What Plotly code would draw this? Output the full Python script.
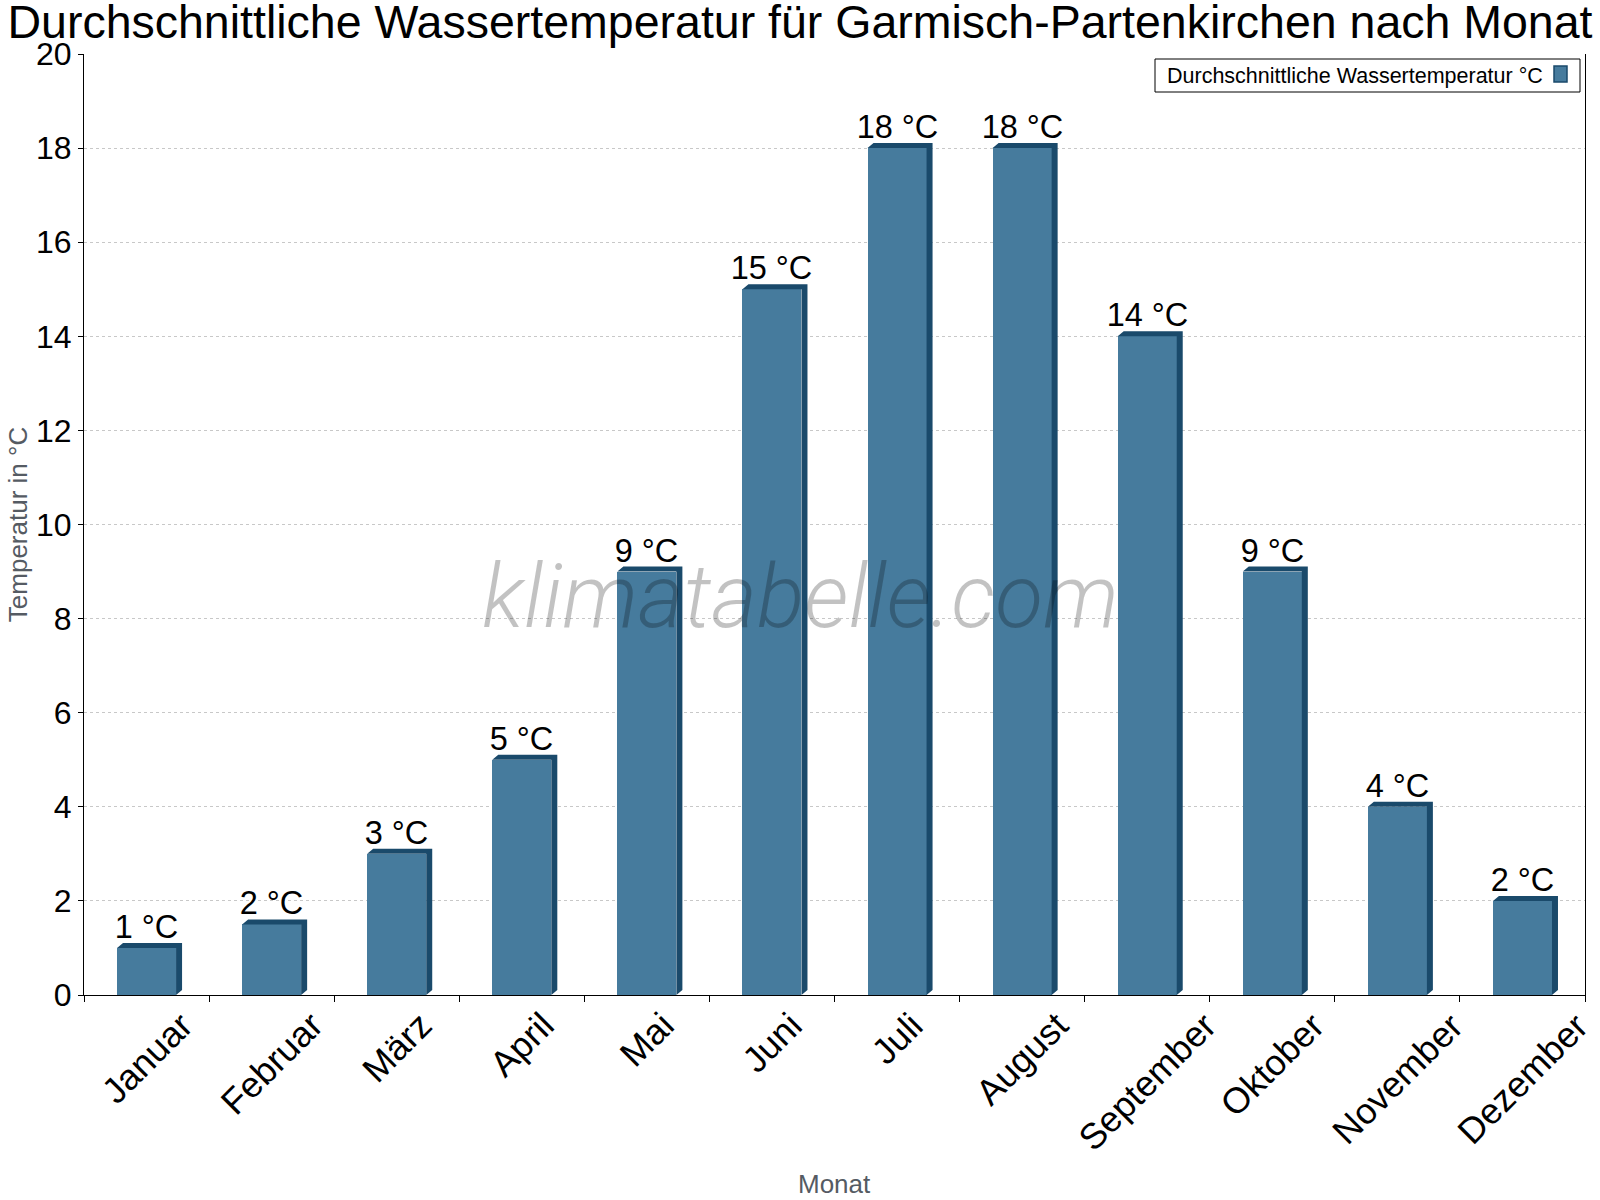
import plotly.graph_objects as go

# ---- data ----
months = ["Januar", "Februar", "März", "April", "Mai", "Juni", "Juli",
          "August", "September", "Oktober", "November", "Dezember"]
water_temp = [1, 1.5, 3, 5, 9, 15, 18, 18, 14, 9, 4, 2]
value_labels = ["1 °C", "2 °C", "3 °C", "5 °C", "9 °C", "15 °C", "18 °C",
                "18 °C", "14 °C", "9 °C", "4 °C", "2 °C"]
y_ticks = [0, 2, 4, 6, 8, 10, 12, 14, 16, 18, 20]

title = "Durchschnittliche Wassertemperatur für Garmisch-Partenkirchen nach Monat"
series_name = "Durchschnittliche Wassertemperatur °C"

# ---- style ----
W, H = 1600, 1200
ML, MR, MT, MB = 84, 15, 54, 205
PW, PH = W - ML - MR, H - MT - MB
FRONT = "rgb(70,123,157)"
DARK = "rgb(26,74,107)"
FONT = "Liberation Sans, Arial, sans-serif"
GRAY = "#555b63"

bar_w = 0.472
dx = 6 / (PW / 12)          # 3D depth in x (data units)
dy = 5 / (PH / 20)          # 3D depth in y (data units)


def px_x(p):
    return (p - ML) / PW


def px_y(p):
    return (H - MB - p) / PH


xs = list(range(len(months)))

# 3D side + top polygons built from the data values
poly_x, poly_y = [], []
hw = bar_w / 2
for i, v in zip(xs, water_temp):
    poly_x += [i + hw, i + hw + dx, i + hw + dx, i - hw + dx, i - hw, i + hw, i + hw, None]
    poly_y += [0, dy, v + dy, v + dy, v, v, 0, None]

fig = go.Figure()
fig.add_trace(go.Scatter(
    x=poly_x, y=poly_y, mode="lines", fill="toself", fillcolor=DARK,
    line=dict(width=0, color=DARK), hoverinfo="skip", showlegend=False))
fig.add_trace(go.Bar(
    x=xs, y=water_temp, width=bar_w, name=series_name,
    marker=dict(color=FRONT, line=dict(width=0)),
    text=value_labels, textposition="outside", constraintext="none",
    textfont=dict(size=32.5, color="black", family=FONT),
    cliponaxis=False, showlegend=False))

annotations = []
for i, m in zip(xs, months):
    annotations.append(dict(
        x=i, y=0, xref="x", yref="y", text=m, showarrow=False,
        textangle=-45, xanchor="center", yanchor="top", yshift=-7,
        font=dict(size=36, color="black", family=FONT)))

# x axis title
annotations.append(dict(
    x=0.5, y=px_y(1184), xref="paper", yref="paper", text="Monat",
    showarrow=False, xanchor="center", yanchor="middle",
    font=dict(size=26, color=GRAY, family=FONT)))

# watermark
annotations.append(dict(
    x=px_x(800), y=px_y(596), xref="paper", yref="paper", text="klimatabelle.com",
    showarrow=False, xanchor="center", yanchor="middle",
    font=dict(size=88, color="rgba(0,0,0,0.24)", family="Roboto, Lato, sans-serif",
              style="italic", weight=300)))

# legend text
annotations.append(dict(
    x=px_x(1165), y=px_y(75.5), xref="paper", yref="paper", text=series_name,
    showarrow=False, xanchor="left", yanchor="middle",
    font=dict(size=21.5, color="black", family=FONT)))

shapes = [
    dict(type="rect", xref="paper", yref="paper",
         x0=px_x(1155), x1=px_x(1580), y0=px_y(92), y1=px_y(59),
         line=dict(color="black", width=1), fillcolor="white", layer="above"),
    dict(type="rect", xref="paper", yref="paper",
         x0=px_x(1554), x1=px_x(1567), y0=px_y(82), y1=px_y(66),
         line=dict(color=DARK, width=1.5), fillcolor=FRONT, layer="above"),
]

fig.update_layout(
    width=W, height=H, autosize=False,
    margin=dict(l=ML, r=MR, t=MT, b=MB, pad=0),
    paper_bgcolor="white", plot_bgcolor="white",
    font=dict(family=FONT, color="black"),
    title=dict(text=title, x=0.5, xanchor="center", y=1 - 21.5 / H, yanchor="middle",
               yref="container", font=dict(size=46.5, color="black", family=FONT)),
    xaxis=dict(range=[-0.5, 11.5], tickvals=[k - 0.5 for k in range(13)],
               showticklabels=False, ticks="outside", ticklen=6, tickcolor="black",
               showline=True, linecolor="black", linewidth=1, showgrid=False,
               zeroline=False, fixedrange=True),
    yaxis=dict(range=[0, 20], tickvals=y_ticks, ticks="outside", ticklen=5,
               tickcolor="black", tickfont=dict(size=32, color="black", family=FONT),
               showline=True, linecolor="black", linewidth=1, mirror=True,
               showgrid=True, gridcolor="#c8c8c8", griddash="dot", gridwidth=1,
               zeroline=False,
               title=dict(text="Temperatur in °C", standoff=0,
                          font=dict(size=26, color=GRAY, family=FONT))),
    bargap=0, barmode="overlay",
    annotations=annotations, shapes=shapes,
    showlegend=False,
)

fig.write_html("out.html")
